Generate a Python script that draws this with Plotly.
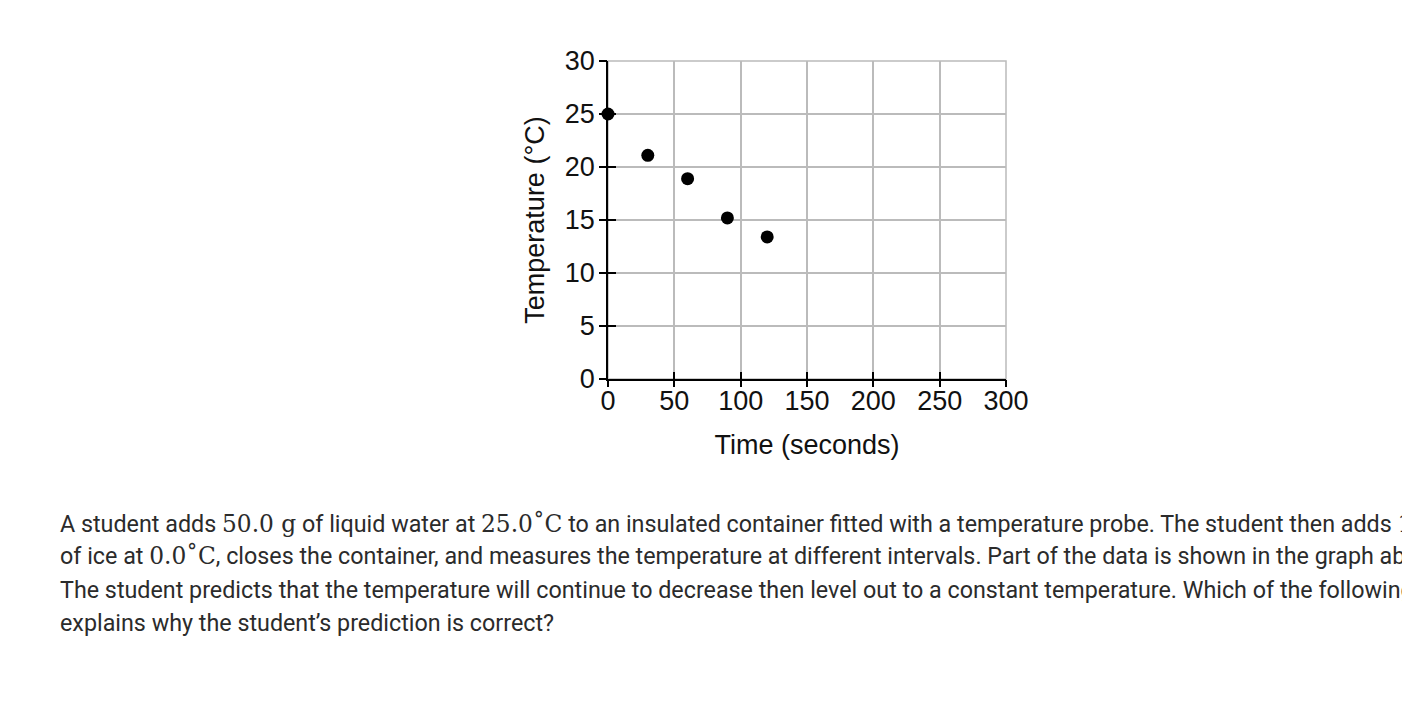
import plotly.graph_objects as go

# data
time_s = [0, 30, 60, 90, 120]
temp_c = [25.0, 21.1, 18.9, 15.2, 13.4]

x_ticks = [0, 50, 100, 150, 200, 250, 300]
y_ticks = [0, 5, 10, 15, 20, 25, 30]

question_lines = [
    'A student adds <span style="font-family:DejaVu Serif">50.0 g</span> of liquid water at '
    '<span style="font-family:DejaVu Serif">25.0˚C</span> to an insulated container fitted with a temperature probe. '
    'The student then adds <span style="font-family:DejaVu Serif">10.0 g</span>',
    'of ice at <span style="font-family:DejaVu Serif">0.0˚C</span>, closes the container, and measures the temperature '
    'at different intervals. Part of the data is shown in the graph above.',
    'The student predicts that the temperature will continue to decrease then level out to a constant temperature. '
    'Which of the following',
    'explains why the student’s prediction is correct?',
]

W, H = 1410, 704
# page has an 8px body margin, so the figure sits 8px right/down
L, R, T, B = 600, 998, 53, 371

fig = go.Figure()
fig.add_trace(go.Scatter(x=time_s, y=temp_c, mode='markers', cliponaxis=False,
                         marker=dict(color='black', size=13), showlegend=False))

axis_font = dict(family='Liberation Sans, Arial', size=27, color='#111')
fig.update_layout(
    width=W, height=H,
    margin=dict(l=L, r=W - R, t=T, b=H - B),
    paper_bgcolor='white', plot_bgcolor='white',
    xaxis=dict(range=[0, 300], tickvals=x_ticks, showgrid=True, gridcolor='#bbbbbb', gridwidth=1.5,
               showline=True, linecolor='black', linewidth=1.5, ticks='inside', ticklen=7,
               tickwidth=1.5, tickcolor='black', tickfont=axis_font, zeroline=False,
               ticklabelstandoff=-3,
               title=dict(text='Time (seconds)', font=axis_font, standoff=20)),
    yaxis=dict(range=[0, 30], tickvals=y_ticks, showgrid=True, gridcolor='#bbbbbb', gridwidth=1.5,
               showline=True, linecolor='black', linewidth=1.5, ticks='inside', ticklen=8,
               tickwidth=1.5, tickcolor='black', tickfont=axis_font, zeroline=False,
               ticklabelstandoff=6,
               title=dict(text='Temperature (°C)', font=axis_font, standoff=12)),
    # overlay axes give the outer half of the crossing tick marks
    xaxis2=dict(range=[0, 300], tickvals=x_ticks, overlaying='x', anchor='y', side='bottom',
                showgrid=False, showticklabels=False, ticks='outside', ticklen=7, tickwidth=1.5,
                tickcolor='black', zeroline=False),
    yaxis2=dict(range=[0, 30], tickvals=y_ticks, overlaying='y', anchor='x', side='left',
                showgrid=False, showticklabels=False, ticks='outside', ticklen=8, tickwidth=1.5,
                tickcolor='black', zeroline=False),
)
fig.add_trace(go.Scatter(x=[None], y=[None], xaxis='x2', yaxis='y2', showlegend=False))

# border on the top and right edges of the grid
fig.add_shape(type='rect', xref='paper', yref='paper', x0=0, x1=1, y0=0, y1=1,
              line=dict(color='#bbbbbb', width=1.5), layer='below')

line_y = [516, 548, 582, 615]
for txt, yp in zip(question_lines, line_y):
    fig.add_annotation(text=txt, xref='paper', yref='paper',
                       x=(50 - L) / (R - L), y=(B - yp) / (B - T),
                       xanchor='left', yanchor='middle', showarrow=False, align='left',
                       font=dict(family='Roboto', size=23.3, color='#2b2b2b'))

fig.write_html('out.html')
